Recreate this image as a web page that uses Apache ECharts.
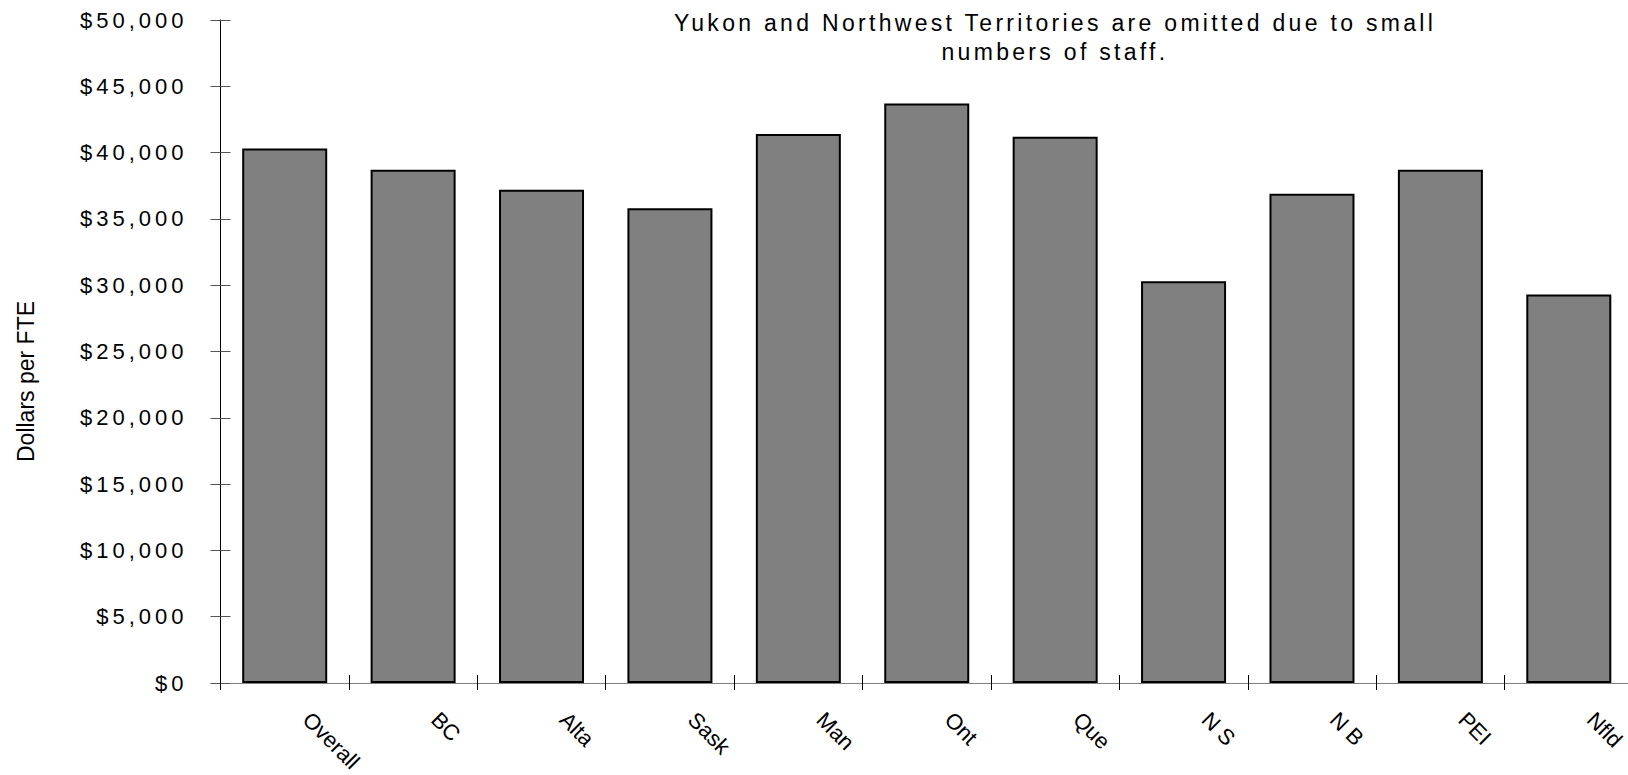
<!DOCTYPE html>
<html>
<head>
<meta charset="utf-8">
<title>Dollars per FTE by province</title>
<script src="https://cdn.jsdelivr.net/npm/echarts@6/dist/echarts.min.js"></script>
<style>
  html, body { margin: 0; padding: 0; background: #ffffff; }
  #chart { width: 1628px; height: 775px; }
</style>
</head>
<body>
<div id="chart"></div>
<script>
// Average dollars per full-time equivalent, by province
const categories = ['Overall', 'BC', 'Alta', 'Sask', 'Man', 'Ont', 'Que', 'N S', 'N B', 'PEI', 'Nfld'];
const dollarsPerFte = [40300, 38700, 37200, 35800, 41400, 43700, 41200, 30300, 36900, 38700, 29300];

// Value axis ticks and their printed labels
const yTicks = [0, 5000, 10000, 15000, 20000, 25000, 30000, 35000, 40000, 45000, 50000];
const yTickLabels = ['$0', '$5,000', '$10,000', '$15,000', '$20,000', '$25,000',
  '$30,000', '$35,000', '$40,000', '$45,000', '$50,000'];

const yAxisTitle = 'Dollars per FTE';
const noteLines = ['Yukon and Northwest Territories are omitted due to small', 'numbers of staff.'];

const FONT = 'Arial, "Liberation Sans", Helvetica, sans-serif';

const chart = echarts.init(document.getElementById('chart'), null, { renderer: 'svg' });

// Second set of axes only draws the inner half of each tick, so ticks cross the axis lines
const hiddenCategoryAxis = {
  type: 'category',
  data: categories,
  position: 'bottom',
  axisLine: { show: false },
  axisLabel: { show: false },
  axisTick: { show: true, inside: true, length: 8, lineStyle: { color: '#000', width: 1 } },
  splitLine: { show: false }
};

const hiddenValueAxis = {
  type: 'value',
  min: yTicks[0],
  max: yTicks[yTicks.length - 1],
  interval: 5000,
  position: 'left',
  axisLine: { show: false },
  axisLabel: { show: false },
  axisTick: { show: true, inside: true, length: 10, lineStyle: { color: '#555', width: 1 } },
  splitLine: { show: false }
};

chart.setOption({
  animation: false,
  backgroundColor: '#ffffff',
  title: {
    text: noteLines.join('\n'),
    left: 1050,
    top: 3,
    textAlign: 'center',
    textStyle: {
      fontFamily: FONT,
      fontSize: 23,
      fontWeight: 'normal',
      color: '#000',
      lineHeight: 29
    }
  },
  grid: {
    left: 220.5,
    right: -5,
    top: 20,
    bottom: 92,
    outerBoundsMode: 'none'
  },
  xAxis: [
    {
      type: 'category',
      data: categories,
      position: 'bottom',
      axisLine: { show: true, lineStyle: { color: '#808080', width: 1 } },
      axisTick: { show: true, length: 7, alignWithLabel: false, lineStyle: { color: '#000', width: 1 } },
      axisLabel: {
        interval: 0,
        rotate: -45,
        margin: 11,
        padding: [0, 0, 0, 31],
        fontFamily: FONT,
        fontSize: 22,
        color: '#000'
      },
      splitLine: { show: false }
    },
    hiddenCategoryAxis
  ],
  yAxis: [
    {
      type: 'value',
      min: yTicks[0],
      max: yTicks[yTicks.length - 1],
      interval: 5000,
      position: 'left',
      name: yAxisTitle,
      nameLocation: 'middle',
      nameRotate: 90,
      nameGap: 183,
      nameTextStyle: {
        fontFamily: FONT,
        fontSize: 23,
        color: '#000',
        padding: [0, 60, 0, 0]
      },
      axisLine: { show: true, lineStyle: { color: '#000', width: 1 } },
      axisTick: { show: true, length: 10, lineStyle: { color: '#555', width: 1 } },
      axisLabel: {
        margin: 33,
        fontFamily: FONT,
        fontSize: 22,
        color: '#000',
        formatter: function (v) {
          const i = yTicks.indexOf(v);
          return i >= 0 ? yTickLabels[i] : '';
        }
      },
      splitLine: { show: false }
    },
    hiddenValueAxis
  ],
  series: [
    {
      type: 'bar',
      xAxisIndex: 0,
      yAxisIndex: 0,
      data: dollarsPerFte,
      barWidth: 85,
      itemStyle: {
        color: '#808080',
        borderColor: '#000',
        borderWidth: 2
      },
      emphasis: { disabled: true },
      silent: true
    }
  ]
});

// Wide letter spacing on the dollar tick labels and the note text
const spacing = new Map();
yTickLabels.forEach(function (t) { spacing.set(t, '4px'); });
noteLines.forEach(function (t) { spacing.set(t, '3.3px'); });

function applySpacing() {
  document.querySelectorAll('#chart text').forEach(function (el) {
    const ls = spacing.get(el.textContent);
    if (ls) el.setAttribute('letter-spacing', ls);
  });
}
chart.on('finished', applySpacing);
applySpacing();
</script>
</body>
</html>
